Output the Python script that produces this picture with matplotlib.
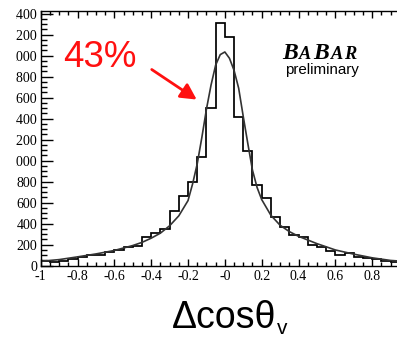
import numpy as np
import matplotlib
matplotlib.use("Agg")
import matplotlib.pyplot as plt
from matplotlib.patches import Rectangle
from matplotlib.ticker import MultipleLocator, FixedLocator

# Histogram of delta cos(theta_v): 0.05-wide bins from -1 to 0.95
bin_edges = np.round(np.arange(-1.0, 0.95 + 1e-9, 0.05), 3)
counts = [45, 38, 48, 64, 86, 102, 102, 133, 149, 181,
          187, 276, 314, 346, 520, 663, 798, 1037, 1505, 2312,
          2180, 1420, 1090, 767, 641, 460, 371, 292, 276, 197,
          181, 143, 102, 124, 86, 76, 64, 48, 32]

# Fitted resolution curve
fit_x = [-1.0, -0.9, -0.8, -0.7, -0.6, -0.5, -0.45, -0.4, -0.35, -0.3,
         -0.25, -0.2, -0.175, -0.15, -0.125, -0.1, -0.075, -0.05, -0.025, 0.0,
         0.025, 0.05, 0.075, 0.1, 0.125, 0.15, 0.175, 0.2, 0.25, 0.3,
         0.35, 0.4, 0.5, 0.6, 0.7, 0.8, 0.9, 1.0]
fit_y = [42, 58, 84, 112, 145, 192, 222, 262, 310, 380,
         475, 620, 780, 970, 1220, 1490, 1720, 1910, 2010, 2035,
         1975, 1860, 1690, 1420, 1160, 910, 745, 630, 480, 385,
         325, 280, 210, 150, 110, 75, 50, 38]

x_ticks = [-1.0, -0.8, -0.6, -0.4, -0.2, 0.0, 0.2, 0.4, 0.6, 0.8]
x_tick_labels = ["-1", "-0.8", "-0.6", "-0.4", "-0.2", "-0", "0.2", "0.4", "0.6", "0.8"]
y_ticks = list(range(0, 2401, 200))
y_tick_labels = [str(v) for v in y_ticks]

W, H = 397, 338
fig = plt.figure(figsize=(W / 100, H / 100), dpi=100)
fig.patch.set_facecolor("white")

# axes box in pixels: left 40.7, right 409, top 10.7, bottom 265.7
ax_l, ax_r, ax_t, ax_b = 40.7, 409.0, 10.7, 265.7
ax = fig.add_axes([ax_l / W, (H - ax_b) / H, (ax_r - ax_l) / W, (ax_b - ax_t) / H])
ax.set_xlim(-1.0, 1.0)
ax.set_ylim(0, 2428)

ax.stairs(counts, bin_edges, color="black", linewidth=1.25, baseline=0)
ax.plot(fit_x, fit_y, color="#333333", linewidth=1.2)

serif = "Liberation Serif"
ax.xaxis.set_major_locator(FixedLocator(x_ticks))
ax.set_xticklabels(x_tick_labels, fontsize=10, family=serif)
ax.xaxis.set_minor_locator(MultipleLocator(0.05))
ax.yaxis.set_major_locator(FixedLocator(y_ticks))
ax.set_yticklabels(y_tick_labels, fontsize=10, family=serif)
ax.yaxis.set_minor_locator(MultipleLocator(50))

ax.tick_params(axis="x", which="both", direction="in", top=True, bottom=True, pad=3, width=1.0)
ax.tick_params(axis="x", which="major", length=5)
ax.tick_params(axis="x", which="minor", length=2.6)
ax.tick_params(axis="y", which="both", direction="in", left=True, right=True, pad=2.5, width=1.0)
ax.tick_params(axis="y", which="major", length=8.8)
ax.tick_params(axis="y", which="minor", length=4.6)
for s in ax.spines.values():
    s.set_linewidth(1.0)
    s.set_color("black")

# the page margin trims the leading digit of the upper y labels
fig.add_artist(Rectangle((0, 1 - 170 / H), 16.0 / W, 170 / H, transform=fig.transFigure,
                         facecolor="white", edgecolor="none", zorder=10))

# efficiency annotation
ax.text(-0.877, 1893, "43%", color="#ff1010", fontsize=26.5, family="Liberation Sans",
        ha="left", va="baseline")
ax.annotate("", xy=(-0.153, 1582), xytext=(-0.397, 1868),
            arrowprops=dict(arrowstyle="-|>,head_length=0.95,head_width=0.5",
                            color="#ff1010", lw=2.0, shrinkA=0, shrinkB=0))

# experiment logo, laid out piece by piece on a common baseline
renderer = fig.canvas.get_renderer()
logo_kw = dict(family=serif, weight="bold", style="italic", color="black",
               va="baseline", ha="left")
lx, ly = 282.0, 59.0
for piece, size in [("B", 17), ("A", 13.2), ("B", 17), ("A", 13.2), ("R", 13.2)]:
    t = fig.text(lx / W, 1 - ly / H, piece, fontsize=size, **logo_kw)
    lx += t.get_window_extent(renderer).width + 1.6
ax.text(0.326, 1828, "preliminary", fontsize=10.9, family="Liberation Sans",
        ha="left", va="baseline", color="black")

# axis title with subscript
xt = fig.text(172 / W, (H - 328) / H, "\u0394cos\u03b8", fontsize=27,
              family="Liberation Sans", ha="left", va="baseline")
xb = xt.get_window_extent(renderer)
fig.text((xb.x1 + 0.5) / W, (H - 334.5) / H, "v", fontsize=15,
         family="Liberation Sans", ha="left", va="baseline")

fig.savefig("out.png", dpi=100)
